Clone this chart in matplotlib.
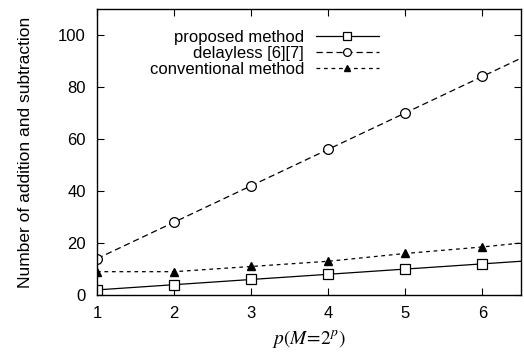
import matplotlib
matplotlib.use("Agg")
import matplotlib.pyplot as plt

plt.rcParams['font.family'] = ['Liberation Sans', 'DejaVu Sans']
plt.rcParams['mathtext.fontset'] = 'stix'

# p values (markers at integers, lines run on to the right edge)
p = [1, 2, 3, 4, 5, 6, 6.5]
proposed = [2, 4, 6, 8, 10, 12, 13]
delayless = [14, 28, 42, 56, 70, 84, 91]
conventional = [9, 9, 11, 13, 16, 18.5, 20]
marks = list(range(6))

fig = plt.figure(figsize=(5.24, 3.53), dpi=100)
ax = fig.add_axes([0.185, 0.164, 0.809, 0.811])

ax.plot(p, proposed, '-', color='black', lw=0.9, marker='s', ms=7,
        mfc='white', mec='black', mew=0.9, markevery=marks, label='proposed method')
ax.plot(p, delayless, color='black', lw=0.9, ls=(0, (5, 3)), marker='o', ms=7,
        mfc='white', mec='black', mew=0.9, markevery=marks, label='delayless [6][7]')
ax.plot(p, conventional, color='black', lw=0.9, ls=(0, (3, 3)), marker='^', ms=6,
        mfc='black', mec='black', markevery=marks, label='conventional method')

ax.set_xlim(1, 6.5)
ax.set_ylim(0, 110)
ax.set_xticks([1, 2, 3, 4, 5, 6])
ax.set_yticks([0, 20, 40, 60, 80, 100])
ax.tick_params(direction='in', top=True, right=True, length=5, labelsize=12, pad=8)
for s in ax.spines.values():
    s.set_linewidth(1.0)

ax.set_xlabel(r'$p(M\!=\!2^p)$', fontsize=14, labelpad=5)
ax.set_ylabel('Number of addition and subtraction', fontsize=12.5, labelpad=18)

ax.legend(loc='upper right', bbox_to_anchor=(0.685, 0.955), frameon=False,
          markerfirst=False, fontsize=12, handlelength=3.8,
          labelspacing=0.05, borderpad=0.0, handletextpad=0.7, markerscale=0.8)

fig.savefig('out.png', dpi=100)
